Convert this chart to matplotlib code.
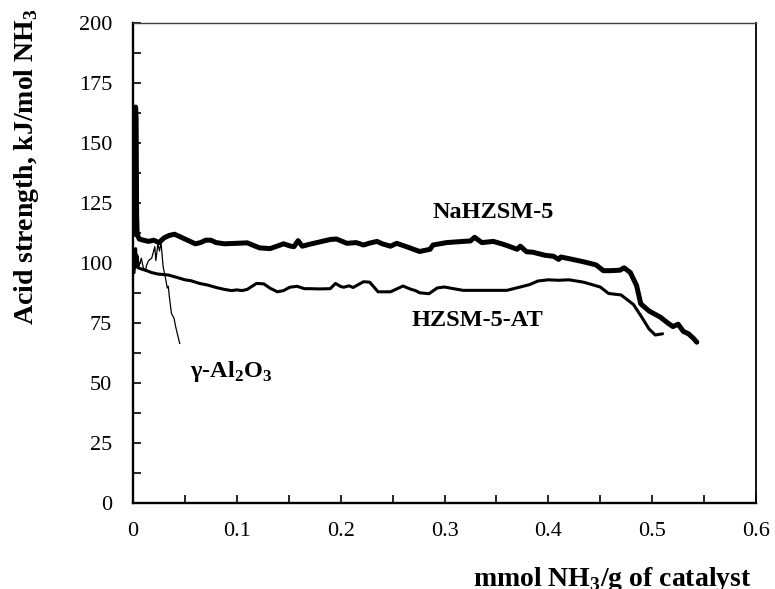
import matplotlib
matplotlib.use("Agg")
import matplotlib.pyplot as plt
from matplotlib.ticker import MultipleLocator

plt.rcParams['font.family'] = ['Liberation Serif', 'DejaVu Serif']
plt.rcParams['mathtext.fontset'] = 'custom'
plt.rcParams['mathtext.rm'] = 'Liberation Serif'
plt.rcParams['mathtext.bf'] = 'Liberation Serif:bold'

# NaHZSM-5 (thick)
na_x = [0.0015, 0.002, 0.0025, 0.003, 0.0035, 0.004, 0.006, 0.01, 0.015, 0.02, 0.025, 0.03,
        0.035, 0.04, 0.045, 0.05, 0.055, 0.06, 0.065, 0.07, 0.075, 0.08, 0.088, 0.1, 0.11,
        0.115, 0.122, 0.132, 0.14, 0.145, 0.152, 0.155, 0.159, 0.163, 0.17, 0.18, 0.19,
        0.196, 0.206, 0.215, 0.222, 0.228, 0.235, 0.24, 0.248, 0.254, 0.264, 0.276, 0.286,
        0.289, 0.302, 0.318, 0.325, 0.329, 0.336, 0.347, 0.355, 0.36, 0.37, 0.373, 0.379,
        0.385, 0.397, 0.405, 0.41, 0.412, 0.42, 0.434, 0.446, 0.453, 0.46, 0.469, 0.473,
        0.479, 0.485, 0.489, 0.497, 0.508, 0.515, 0.52, 0.525, 0.53, 0.535, 0.54, 0.543]
na_y = [112, 150, 165, 160, 120, 112, 110, 109.5, 109, 109.5, 108.5, 110.5,
        111.5, 112, 111, 110, 109, 108, 108.5, 109.5, 109.5, 108.5, 108, 108.2, 108.4,
        107.5, 106.3, 106, 107.2, 108, 107, 106.8, 109.3, 107, 107.8, 108.8, 109.8,
        110, 108.2, 108.5, 107.5, 108.3, 109, 108, 107, 108.2, 106.7, 104.8, 105.7,
        107.5, 108.5, 109, 109.2, 110.7, 108.5, 109, 108, 107.3, 105.7, 107, 104.7,
        104.5, 103.2, 102.8, 101.5, 102.5, 101.8, 100.5, 99.2, 96.8, 96.8, 97, 98,
        96, 90.6, 83, 80, 77.4, 75, 73.5, 74.5, 71.5, 70.5, 68.5, 67]

# HZSM-5-AT (medium)
at_x = [0.001, 0.0015, 0.002, 0.0025, 0.003, 0.004, 0.005, 0.008, 0.012, 0.018, 0.024, 0.034,
        0.043, 0.05, 0.056, 0.064, 0.072, 0.08, 0.088, 0.095, 0.1, 0.105, 0.11, 0.119, 0.126,
        0.132, 0.139, 0.145, 0.151, 0.158, 0.165, 0.17, 0.18, 0.19, 0.195, 0.2, 0.203, 0.208,
        0.212, 0.222, 0.228, 0.236, 0.248, 0.26, 0.268, 0.272, 0.276, 0.285, 0.293, 0.3,
        0.31, 0.318, 0.34, 0.36, 0.373, 0.382, 0.39, 0.4, 0.41, 0.42, 0.434, 0.45, 0.458,
        0.47, 0.482, 0.49, 0.497, 0.503, 0.51]
at_y = [96, 104, 98, 106, 100, 103, 98, 97.5, 97, 96, 95.4, 95,
        93.9, 93, 92.6, 91.5, 90.8, 89.8, 89, 88.5, 88.8, 88.5, 89, 91.5, 91.3,
        89.5, 88, 88.5, 89.9, 90.3, 89.3, 89.3, 89.2, 89.3, 91.5, 90.2, 89.9, 90.5,
        89.8, 92.2, 92, 88, 88, 90.4, 89, 88.5, 87.6, 87.2, 89.6, 90,
        89.2, 88.6, 88.6, 88.6, 90, 91, 92.5, 93, 92.8, 93, 92, 90, 87.3,
        86.7, 82.7, 77.4, 72.5, 70, 70.5]

# gamma-Al2O3 (thin)
al_x = [0.0008, 0.0015, 0.002, 0.003, 0.004, 0.006, 0.008, 0.01, 0.012, 0.013, 0.015, 0.018,
        0.021, 0.022, 0.024, 0.0255, 0.027, 0.029, 0.031, 0.033, 0.034, 0.035, 0.037,
        0.0395, 0.041, 0.043, 0.045]
al_y = [97, 104, 100, 106, 101, 99, 102, 98, 96.6, 99, 101, 102,
        106.8, 101, 108, 105, 108.5, 98.5, 94.4, 89.6, 90.3, 86, 79,
        77, 73.6, 70, 66.5]

x_ticks = [0, 0.1, 0.2, 0.3, 0.4, 0.5, 0.6]
x_tick_labels = ['0', '0.1', '0.2', '0.3', '0.4', '0.5', '0.6']
y_ticks = [0, 25, 50, 75, 100, 125, 150, 175, 200]

fig = plt.figure(figsize=(7.75, 5.89), dpi=100)
ax = fig.add_axes([133/775, 1 - 503/589, (756-133)/775, (503-23)/589])

ax.plot(al_x, al_y, color='black', lw=0.9, solid_joinstyle='round')
ax.plot(at_x, at_y, color='black', lw=2.2, solid_joinstyle='round', solid_capstyle='round')
ax.plot(na_x, na_y, color='black', lw=3.6, solid_joinstyle='round', solid_capstyle='round')

ax.set_xlim(0, 0.6)
ax.set_ylim(0, 200)
ax.set_xticks(x_ticks)
ax.set_xticklabels(x_tick_labels)
ax.set_yticks(y_ticks)
ax.xaxis.set_minor_locator(MultipleLocator(0.05))
ax.yaxis.set_minor_locator(MultipleLocator(12.5))
ax.tick_params(axis='both', which='both', direction='in', length=6, width=1.2,
               labelsize=16, top=False, right=False)
ax.tick_params(axis='x', which='major', pad=14)
ax.tick_params(axis='y', which='major', pad=15)

for s in ['left', 'bottom']:
    ax.spines[s].set_linewidth(1.7)
ax.spines['right'].set_linewidth(1.3)
ax.spines['top'].set_linewidth(1.0)
ax.spines['top'].set_color('#404040')

ax.set_ylabel(r'Acid strength, kJ/mol NH$_\mathbf{3}$', fontsize=20, fontweight='bold')
ax.yaxis.set_label_coords(-0.148, 0.70)

fig.text(752/775, (589-586)/589, r'mmol NH$_\mathbf{3}$/g of catalyst', fontsize=20,
         fontweight='bold', ha='right', va='baseline')

ax.text(0.347, 121, 'NaHZSM-5', fontsize=17.5, fontweight='bold', ha='center', va='center')
ax.text(0.332, 76, 'HZSM-5-AT', fontsize=17.5, fontweight='bold', ha='center', va='center')
ax.text(0.055, 55, r'γ-Al$_\mathbf{2}$O$_\mathbf{3}$', fontsize=17.5, fontweight='bold',
        ha='left', va='center')

fig.savefig('out.png', dpi=100)
